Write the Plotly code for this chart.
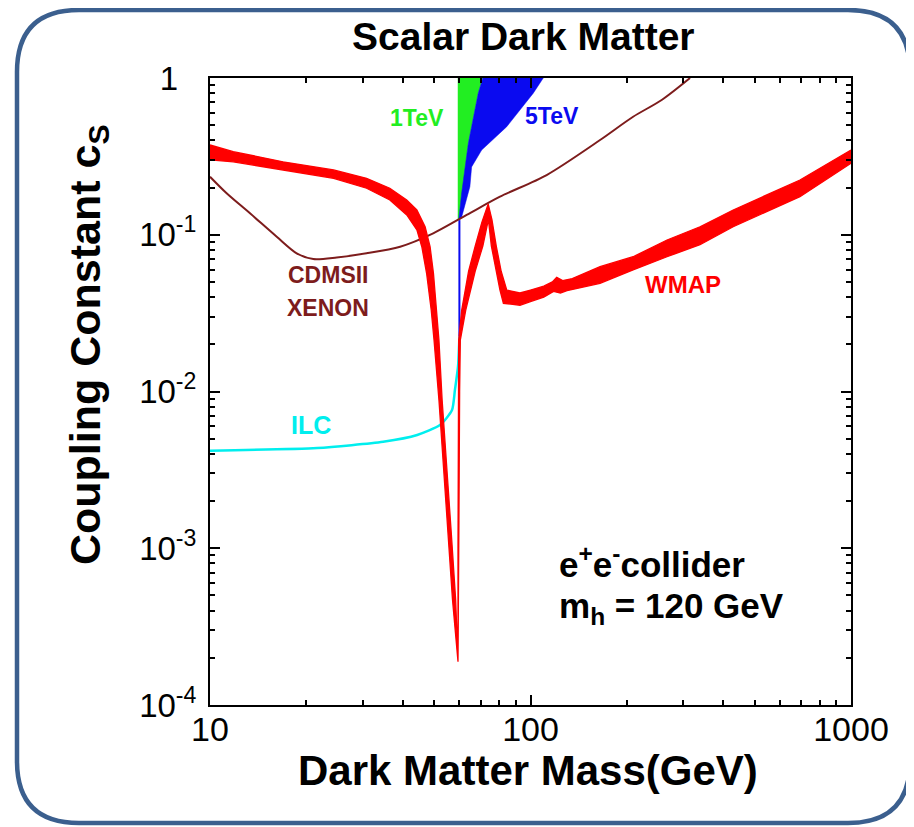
import plotly.graph_objects as go

# ---------------- data ----------------
# CDMSII / XENON direct-detection bound
cdms_mass = [10, 11.27, 13.33, 16.15, 18.64, 21.0, 24.85, 30.8, 39.2, 49.7, 63.2, 80.3, 112.3, 164.8, 209, 256.6, 314.6]
cdms_c = [0.2346, 0.184, 0.137, 0.0971, 0.0761, 0.070, 0.0716, 0.0761, 0.0839, 0.1021, 0.1337, 0.1749, 0.2405, 0.402, 0.566, 0.724, 1.0]

# ILC reach
ilc_mass = [10, 21.6, 34.7, 44.3, 52.2, 56.9, 58.1, 59.4, 60.0]
ilc_c = [4.19e-3, 4.36e-3, 4.78e-3, 5.28e-3, 6.11e-3, 7.62e-3, 1.022e-2, 1.439e-2, 2.236e-2]

# 1 TeV region (green)
tev1_mass = [59.4, 59.4, 71.0, 68.7, 64.0, 61.0, 59.7]
tev1_c = [0.124, 1.0, 1.0, 0.8, 0.385, 0.185, 0.124]

# 5 TeV region (blue)
tev5_mass = [59.7, 61.0, 64.0, 68.7, 71.0, 109.6, 102.0, 84.3, 70.4, 65.5, 64.7, 61.0, 60.0]
tev5_c = [0.124, 0.185, 0.385, 0.8, 1.0, 1.0, 0.8, 0.489, 0.347, 0.271, 0.2025, 0.130, 0.124]
tev5_line_mass = [60.0, 60.0]
tev5_line_c = [0.0224, 0.124]

# WMAP band: upper side (m from 10 to 1000) and lower side (m from 1000 to 10)
wmap_upper_mass = [10, 11.82, 16.9, 24.3, 30.8, 36.4, 41.1, 44.2, 46.9, 48.6, 49.8, 51.0, 51.8, 53.0, 53.7,
                   55.2, 56.6, 58.4, 59.4, 59.4, 59.5, 59.7, 61.0, 64.1, 67.2, 70.5, 73.8, 75.8, 78.2,
                   81.0, 84.3, 88, 92.7, 100, 110, 117, 120.7, 126, 135, 164.8, 209, 266.7, 338, 429, 693, 1000]
wmap_upper_c = [0.374, 0.339, 0.292, 0.259, 0.229, 0.198, 0.1666, 0.1439, 0.1125, 0.0839, 0.0568, 0.0331, 0.0213, 8.83e-3, 6.11e-3,
                2.61e-3, 1.25e-3, 4.7e-4, 1.89e-4, 1.0e-3, 0.01, 0.0213, 0.0331, 0.0585, 0.0847, 0.12, 0.157, 0.125, 0.0847,
                0.0585, 0.0444, 0.0435, 0.0425, 0.0444, 0.047, 0.050, 0.0535, 0.051, 0.0525, 0.0626, 0.0724, 0.0926, 0.1125, 0.1438, 0.2235, 0.347]
wmap_lower_mass = [1000, 693, 429, 338, 266.7, 209, 164.8, 130, 124, 118, 110, 100, 92.7, 88, 82.3, 80.3,
                   78.2, 75.5, 73.9, 71.0, 67.2, 62.8, 60.4, 60.1, 59.8, 59.4, 57.1, 55.3, 54.0, 52.5, 51.8,
                   50.0, 49.0, 47.4, 45.8, 44.2, 41.1, 36.4, 30.8, 24.3, 16.9, 11.82, 10]
wmap_lower_c = [0.2855, 0.1749, 0.1125, 0.0864, 0.0724, 0.0596, 0.049, 0.044, 0.0425, 0.0435, 0.040, 0.0375, 0.0355, 0.036, 0.0365, 0.0444,
                0.0585, 0.0847, 0.125, 0.0847, 0.0585, 0.0331, 0.0213, 0.01, 1.5e-3, 1.89e-4, 4.7e-4, 1.25e-3, 2.61e-3, 6.11e-3, 8.83e-3,
                0.0213, 0.0331, 0.0568, 0.0839, 0.1074, 0.1337, 0.1666, 0.198, 0.229, 0.259, 0.292, 0.300]

x_tickvals = [10, 100, 1000]
x_ticktext = ["10", "100", "1000"]
x_minor = [20, 30, 40, 50, 60, 70, 80, 90, 200, 300, 400, 500, 600, 700, 800, 900]
y_tickvals = [1e-4, 1e-3, 1e-2, 1e-1, 1]
y_ticktext = ["10<sup>-4</sup>", "10<sup>-3</sup>", "10<sup>-2</sup>", "10<sup>-1</sup>", "1\u00a0\u00a0"]
y_minor = [m * 10.0 ** e for e in (-4, -3, -2, -1) for m in range(2, 10)]

# ---------------- layout helpers ----------------
# the page body has an 8px margin, so the figure starts at (8, 8) on the page
OFF = 8
W, H = 914 - OFF, 827 - OFF
PLOT_L, PLOT_R, PLOT_T, PLOT_B = 210, 851, 78, 705   # page pixels of the plot area
L, T = PLOT_L - OFF, PLOT_T - OFF
R, B = W - (PLOT_R - OFF), H - (PLOT_B - OFF)
PW, PH = PLOT_R - PLOT_L, PLOT_B - PLOT_T


def px(x):
    return (x - PLOT_L) / PW


def py(y):
    return (PLOT_B - y) / PH


FONT = "Liberation Sans, Arial, sans-serif"
RED = "#ff0000"
BROWN = "#7d1c1c"
CYAN = "#00eeee"
GREEN = "#22ee22"
BLUE = "#0a0af0"

fig = go.Figure()

fig.add_trace(go.Scatter(x=tev1_mass, y=tev1_c, mode="lines", fill="toself",
                         fillcolor=GREEN, line=dict(color=GREEN, width=0.5), hoverinfo="skip"))
fig.add_trace(go.Scatter(x=tev5_mass, y=tev5_c, mode="lines", fill="toself",
                         fillcolor=BLUE, line=dict(color=BLUE, width=0.5), hoverinfo="skip"))
fig.add_trace(go.Scatter(x=ilc_mass, y=ilc_c, mode="lines",
                         line=dict(color=CYAN, width=2.5, shape="spline", smoothing=0.6)))
fig.add_trace(go.Scatter(x=tev5_line_mass, y=tev5_line_c, mode="lines",
                         line=dict(color=BLUE, width=2)))
fig.add_trace(go.Scatter(x=cdms_mass, y=cdms_c, mode="lines",
                         line=dict(color=BROWN, width=2, shape="spline", smoothing=0.8)))
fig.add_trace(go.Scatter(x=wmap_upper_mass + wmap_lower_mass, y=wmap_upper_c + wmap_lower_c,
                         mode="lines", fill="toself", fillcolor=RED,
                         line=dict(color=RED, width=1.3)))

axis_common = dict(
    type="log", showline=True, linecolor="black", linewidth=2, mirror="allticks",
    ticks="inside", ticklen=10, tickwidth=2, tickcolor="black",
    showgrid=False, zeroline=False,
)
fig.update_xaxes(**axis_common, range=[1, 3], tickmode="array", tickvals=x_tickvals, ticktext=x_ticktext,
                 tickfont=dict(family=FONT, size=34, color="black"), ticklabelstandoff=-7,
                 minor=dict(ticks="inside", ticklen=5, tickwidth=1.5, tickcolor="black",
                            tickmode="array", tickvals=x_minor, showgrid=False))
fig.update_yaxes(**axis_common, range=[-4, 0], tickmode="array", tickvals=y_tickvals, ticktext=y_ticktext,
                 tickfont=dict(family=FONT, size=33, color="black"), ticklabelstandoff=5,
                 minor=dict(ticks="inside", ticklen=5, tickwidth=1.5, tickcolor="black",
                            tickmode="array", tickvals=y_minor, showgrid=False))

annotations = [
    dict(text="<b>Scalar Dark Matter</b>", x=px(523), y=py(37), size=39, color="black"),
    dict(text="<b>Dark Matter Mass(GeV)</b>", x=px(528), y=py(770), size=42, color="black"),
    dict(text="<b>Coupling Constant c<sub>S</sub></b>", x=px(88), y=py(345), size=43, color="black", angle=-90),
    dict(text="<b>1TeV</b>", x=px(417), y=py(118), size=23, color=GREEN),
    dict(text="<b>5TeV</b>", x=px(552), y=py(116), size=23, color=BLUE),
    dict(text="<b>CDMSII</b>", x=px(328), y=py(275), size=23, color=BROWN),
    dict(text="<b>XENON</b>", x=px(328), y=py(308), size=23, color=BROWN),
    dict(text="<b>ILC</b>", x=px(311), y=py(425), size=25, color=CYAN),
    dict(text="<b>WMAP</b>", x=px(683), y=py(284), size=24, color=RED),
]
for a in annotations:
    fig.add_annotation(text=a["text"], x=a["x"], y=a["y"], xref="paper", yref="paper",
                       xanchor="center", yanchor="middle", showarrow=False,
                       textangle=a.get("angle", 0),
                       font=dict(family=FONT, size=a["size"], color=a["color"]))

fig.add_annotation(text="<b>e<sup>+</sup>e<sup>-</sup>collider</b>", x=px(557), y=py(562),
                   xref="paper", yref="paper", xanchor="left", yanchor="middle", showarrow=False,
                   font=dict(family=FONT, size=35, color="black"))
fig.add_annotation(text="<b>m<sub>h</sub> = 120 GeV</b>", x=px(557), y=py(608),
                   xref="paper", yref="paper", xanchor="left", yanchor="middle", showarrow=False,
                   font=dict(family=FONT, size=35, color="black"))

# rounded frame around the whole figure (page pixels)
x0, x1, y0, y1, rr = 17, 910, 10, 823, 62
path = (f"M {px(x0 + rr)},{py(y0)} L {px(x1 - rr)},{py(y0)} "
        f"Q {px(x1)},{py(y0)} {px(x1)},{py(y0 + rr)} L {px(x1)},{py(y1 - rr)} "
        f"Q {px(x1)},{py(y1)} {px(x1 - rr)},{py(y1)} L {px(x0 + rr)},{py(y1)} "
        f"Q {px(x0)},{py(y1)} {px(x0)},{py(y1 - rr)} L {px(x0)},{py(y0 + rr)} "
        f"Q {px(x0)},{py(y0)} {px(x0 + rr)},{py(y0)} Z")
fig.add_shape(type="path", path=path, xref="paper", yref="paper",
              line=dict(color="#3b5f8e", width=4.5), layer="below")

fig.update_layout(
    width=W, height=H,
    margin=dict(l=L, r=R, t=T, b=B, autoexpand=False),
    paper_bgcolor="white", plot_bgcolor="white",
    showlegend=False,
    font=dict(family=FONT, color="black"),
)

fig.write_html("out.html")
